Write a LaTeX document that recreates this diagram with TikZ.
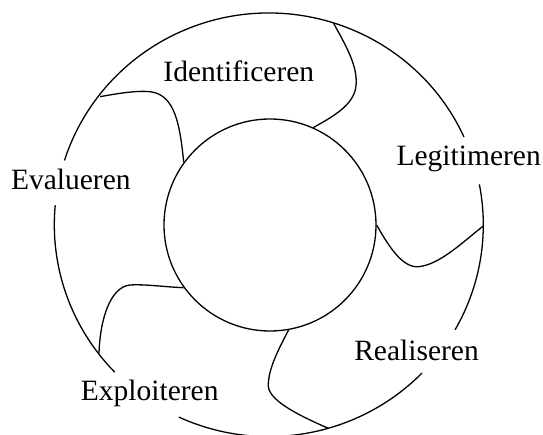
\documentclass[tikz,border=0pt]{standalone}
\usepackage{fontspec}
\setmainfont{Liberation Serif}
\usepackage{tikz}
\usetikzlibrary{calc}

\begin{document}
\begin{tikzpicture}[x=1pt,y=1pt,line width=1.3pt,
		lbl/.style = {anchor=base,inner sep=0pt,font=\fontsize{29.5}{35}\selectfont},
		ring/.style = {draw,circle,minimum size=212pt,inner sep=0pt}
		]
		\useasboundingbox (0,0) rectangle (543,434);
		%CIRKELS
		\coordinate (O) at (268.8,209.2);
		\node[ring] (kern) at (270,209) {};
		\draw ($(O)+(24.5:214.5 and 211.8)$) arc[start angle=24.5, end angle=162.3, x radius=214.5, y radius=211.8];
		\draw ($(O)+(174.7:214.5 and 211.8)$) arc[start angle=174.7, end angle=224.1, x radius=214.5, y radius=211.8];
		\draw ($(O)+(245.2:214.5 and 211.8)$) arc[start angle=245.2, end angle=315.6, x radius=214.5, y radius=211.8];
		\draw ($(O)+(330.3:214.5 and 211.8)$) arc[start angle=330.3, end angle=371, x radius=214.5, y radius=211.8];
		%PUNTEN OP DE BUITENRING
		\coordinate (u1) at (333.3,411.3);
		\coordinate (u2) at (483.3,208);
		\coordinate (u3) at (328.3,5.7);
		\coordinate (u4) at (99,80.7);
		\coordinate (u5) at (100,337.3);
		%SCHEIDINGEN
		\draw (u1) .. controls (346,388) and (358,368) .. (356,348) .. controls (354,328) and (330,316) .. (kern.66);
		\draw (kern.0) .. controls (388,189) and (402,166) .. (418.3,167.3) .. controls (440,169) and (465,194) .. (u2);
		\draw (kern.280) .. controls (280,87) and (268,66) .. (268.3,48) .. controls (269,32) and (305,16) .. (u3);
		\draw (kern.216.6) .. controls (165,147) and (145,150) .. (130,149) .. controls (110,147) and (100,114) .. (u4);
		\draw (u5) .. controls (120,341) and (140,344) .. (152,342) .. controls (175,338) and (180,309) .. (kern.144);
		%FASEN
		\node[lbl] (ident) at (238.8,352.3) {Identificeren};
		\node[lbl] (legit) at (468.7,268.3) {Legitimeren};
		\node[lbl] (eval) at (70.8,244) {Evalueren};
		\node[lbl] (real) at (416.5,74) {Realiseren};
		\node[lbl] (expl) at (149.7,34) {Exploiteren};
	\end{tikzpicture}
\end{document}
